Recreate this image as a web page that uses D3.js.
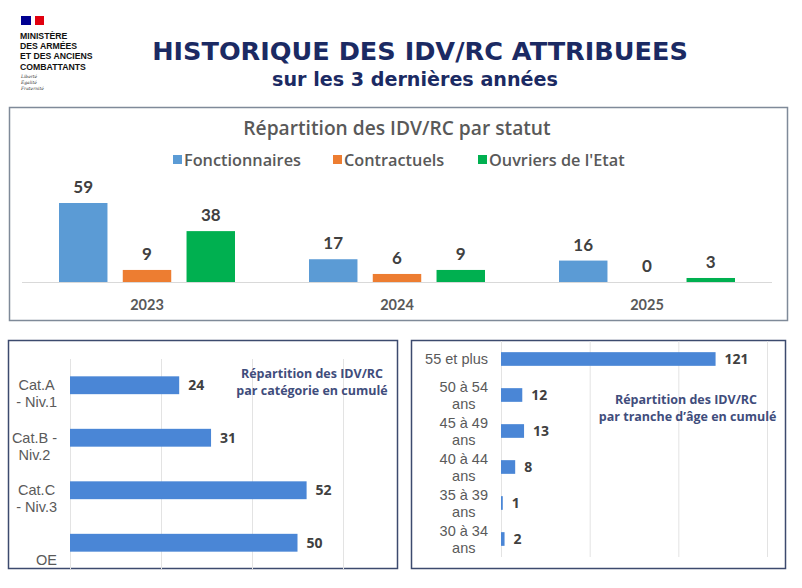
<!DOCTYPE html>
<html><head><meta charset="utf-8">
<script src="https://cdn.jsdelivr.net/npm/d3@7"></script>
<style>
body{margin:0;background:#fff;}
svg{display:block;}
</style></head>
<body>
<svg id="c" width="802" height="588"></svg>
<script>
// ---- data ----
const years = ["2023", "2024", "2025"];
const statusSeries = ["Fonctionnaires", "Contractuels", "Ouvriers de l'Etat"];
const fonctionnaires = [59, 17, 16];
const contractuels = [9, 6, 0];
const ouvriers = [38, 9, 3];

const categories = [["Cat.A", "- Niv.1"], ["Cat.B -", "Niv.2"], ["Cat.C", "- Niv.3"], ["", "OE"]];
const categoryValues = [24, 31, 52, 50];
const categoryTicks = [0, 20, 40, 60];

const ageGroups = [["55 et plus"], ["50 à 54", "ans"], ["45 à 49", "ans"], ["40 à 44", "ans"], ["35 à 39", "ans"], ["30 à 34", "ans"]];
const ageValues = [121, 12, 13, 8, 1, 2];
const ageTicks = [0, 50, 100, 150];

const colors = ["#5b9bd5", "#ed7d31", "#00b050"];
const navy = "#1b2a63";

const svg = d3.select("#c");

// fit a text element's font size so that it spans a given width
function fitWidth(sel, target) {
  const fs = +sel.attr("font-size");
  const w = sel.node().getComputedTextLength();
  sel.attr("font-size", (fs * target / w).toFixed(2));
}

// ---- header ----
const logo = svg.append("g");
logo.append("rect").attr("x", 21).attr("y", 16).attr("width", 10).attr("height", 9).attr("fill", "#000091");
logo.append("rect").attr("x", 31).attr("y", 16).attr("width", 4).attr("height", 9).attr("fill", "#ffffff");
logo.append("rect").attr("x", 35).attr("y", 16).attr("width", 9).attr("height", 9).attr("fill", "#e1000f");
const minLines = ["MINISTÈRE", "DES ARMÉES", "ET DES ANCIENS", "COMBATTANTS"];
svg.append("g").selectAll("text").data(minLines).join("text")
  .attr("x", 20).attr("y", (d, i) => 39 + i * 10.2)
  .attr("font-family", "Liberation Sans, Arial, sans-serif").attr("font-weight", 700)
  .attr("font-size", 8.7).attr("fill", "#111").text(d => d);
svg.append("g").selectAll("text").data(["Liberté", "Égalité", "Fraternité"]).join("text")
  .attr("x", 21).attr("y", (d, i) => 78 + i * 6)
  .attr("font-family", "DejaVu Serif, serif").attr("font-style", "italic")
  .attr("font-size", 4.4).attr("fill", "#333").text(d => d);

const mainTitle = svg.append("text").attr("x", 420).attr("y", 59.5).attr("text-anchor", "middle")
  .attr("font-family", "DejaVu Sans, sans-serif").attr("font-weight", 700)
  .attr("font-size", 24).attr("fill", navy)
  .text("HISTORIQUE DES IDV/RC ATTRIBUEES");
fitWidth(mainTitle, 536);
const subTitle = svg.append("text").attr("x", 415).attr("y", 86).attr("text-anchor", "middle")
  .attr("font-family", "DejaVu Sans, sans-serif").attr("font-weight", 700)
  .attr("font-size", 18).attr("fill", navy)
  .text("sur les 3 dernières années");
fitWidth(subTitle, 286);

// ---- top panel ----
svg.append("rect").attr("x", 9.5).attr("y", 107.5).attr("width", 778).attr("height", 213)
  .attr("fill", "#fff").attr("stroke", "#7f8a99").attr("stroke-width", 1.5);
svg.append("text").attr("x", 397).attr("y", 135).attr("text-anchor", "middle")
  .attr("font-family", "Open Sans, sans-serif").attr("font-weight", 600)
  .attr("font-size", 19.2).attr("fill", "#595959")
  .text("Répartition des IDV/RC par statut");

const legendX = [173, 333, 478];
const lg = svg.append("g").selectAll("g").data(statusSeries).join("g")
  .attr("transform", (d, i) => `translate(${legendX[i]},160)`);
lg.append("rect").attr("x", 0).attr("y", -5).attr("width", 9).attr("height", 9).attr("fill", (d, i) => colors[i]);
lg.append("text").attr("x", 11).attr("y", 5.5)
  .attr("font-family", "Open Sans, sans-serif").attr("font-weight", 600)
  .attr("font-size", 16.3).attr("fill", "#595959").text(d => d);

const x0 = d3.scaleBand().domain(years).range([22, 772]);
const x1 = d3.scaleBand().domain(statusSeries).range([x0.bandwidth() / 2 - 88, x0.bandwidth() / 2 + 88]).paddingInner(0.24);
const yTop = d3.scaleLinear().domain([0, 59]).range([282, 203]);
const seriesVals = [fonctionnaires, contractuels, ouvriers];
const topData = [];
years.forEach((y, yi) => statusSeries.forEach((s, si) => topData.push({ year: y, s, si, v: seriesVals[si][yi] })));

svg.append("line").attr("x1", 22).attr("x2", 772).attr("y1", 282.5).attr("y2", 282.5)
  .attr("stroke", "#d9d9d9").attr("stroke-width", 1);
svg.append("g").selectAll("rect").data(topData).join("rect")
  .attr("x", d => x0(d.year) + x1(d.s))
  .attr("width", x1.bandwidth())
  .attr("y", d => yTop(d.v))
  .attr("height", d => yTop(0) - yTop(d.v))
  .attr("fill", d => colors[d.si]);
svg.append("g").selectAll("text").data(topData).join("text")
  .attr("x", d => x0(d.year) + x1(d.s) + x1.bandwidth() / 2)
  .attr("y", d => yTop(d.v) - 10)
  .attr("text-anchor", "middle")
  .attr("font-family", "Lato, sans-serif").attr("font-weight", 700)
  .attr("font-size", 17).attr("fill", "#404040").text(d => d.v);
const xAxisTop = svg.append("g").attr("transform", "translate(0,282)")
  .call(d3.axisBottom(x0).tickSize(0).tickPadding(18));
xAxisTop.select(".domain").remove();
xAxisTop.selectAll("text").attr("font-family", "Lato, sans-serif").attr("font-weight", 700)
  .attr("font-size", 14.5).attr("fill", "#595959");

// ---- helper for horizontal bar panels ----
function hPanel(opts) {
  const g = svg.append("g");
  g.append("rect").attr("x", opts.box[0]).attr("y", opts.box[1]).attr("width", opts.box[2]).attr("height", opts.box[3])
    .attr("fill", "#fff").attr("stroke", "#3c4a6e").attr("stroke-width", 1.5);
  const x = d3.scaleLinear().domain(opts.domain).range(opts.xr);
  const y = d3.scaleBand().domain(opts.labels.map((d, i) => i)).range(opts.yr).paddingInner(opts.pad).paddingOuter(opts.pad / 2);
  const grid = g.append("g").attr("transform", `translate(0,${opts.gridY[1]})`)
    .call(d3.axisBottom(x).tickValues(opts.ticks).tickSize(-(opts.gridY[1] - opts.gridY[0])).tickFormat(""));
  grid.select(".domain").remove();
  grid.selectAll("line").attr("stroke", "#e3e3e3").attr("stroke-width", 1);
  g.append("g").selectAll("rect").data(opts.values).join("rect")
    .attr("x", x(0)).attr("y", (d, i) => y(i))
    .attr("width", d => x(d) - x(0)).attr("height", y.bandwidth())
    .attr("fill", "#4a86d6");
  g.append("g").selectAll("text").data(opts.values).join("text")
    .attr("x", d => x(d) + 9).attr("y", (d, i) => y(i) + y.bandwidth() / 2 + 5)
    .attr("font-family", "Open Sans, sans-serif").attr("font-weight", 700)
    .attr("font-size", 14).attr("fill", "#404040").text(d => d);
  // category labels: block right aligned, lines centred within block
  g.append("g").selectAll("text").data(opts.labels).join("text")
    .attr("font-family", "Liberation Sans, Arial, sans-serif")
    .attr("font-size", 14.5).attr("fill", "#5a5a5a").attr("text-anchor", "middle")
    .each(function (lines, i) {
      const t = d3.select(this);
      const ts = t.selectAll("tspan").data(lines).join("tspan")
        .attr("y", (d, k) => y(i) + y.bandwidth() / 2 + opts.lineOffset(lines.length) + k * opts.lh + 5)
        .text(d => d);
      let w = 0;
      ts.each(function () { w = Math.max(w, this.getComputedTextLength()); });
      ts.attr("x", x(0) - opts.gap - w / 2);
    });
  const tt = g.append("text").attr("text-anchor", "middle")
    .attr("font-family", "Open Sans, sans-serif").attr("font-weight", 700)
    .attr("font-size", 12.5).attr("fill", "#3f4d7c");
  tt.selectAll("tspan").data(opts.title).join("tspan")
    .attr("x", opts.titlePos[0]).attr("y", (d, k) => opts.titlePos[1] + k * 17)
    .text(d => d);
}

hPanel({
  box: [8.5, 340.5, 389, 228],
  domain: [0, 60], xr: [70, 343], ticks: categoryTicks,
  yr: [359, 569], pad: 0.66, gridY: [359, 569],
  labels: categories, values: categoryValues,
  lh: 17, gap: 13, lineOffset: n => 0,
  title: ["Répartition des IDV/RC", "par catégorie  en cumulé"], titlePos: [312, 378]
});

hPanel({
  box: [411.5, 340.5, 374, 228],
  domain: [0, 150], xr: [501, 767], ticks: ageTicks,
  yr: [341, 557], pad: 0.62, gridY: [341, 557],
  labels: ageGroups, values: ageValues,
  lh: 17, gap: 13, lineOffset: n => -(n - 1) * 8.5,
  title: ["Répartition des IDV/RC", " par tranche d’âge en cumulé"], titlePos: [686, 404]
});
</script>
</body></html>
